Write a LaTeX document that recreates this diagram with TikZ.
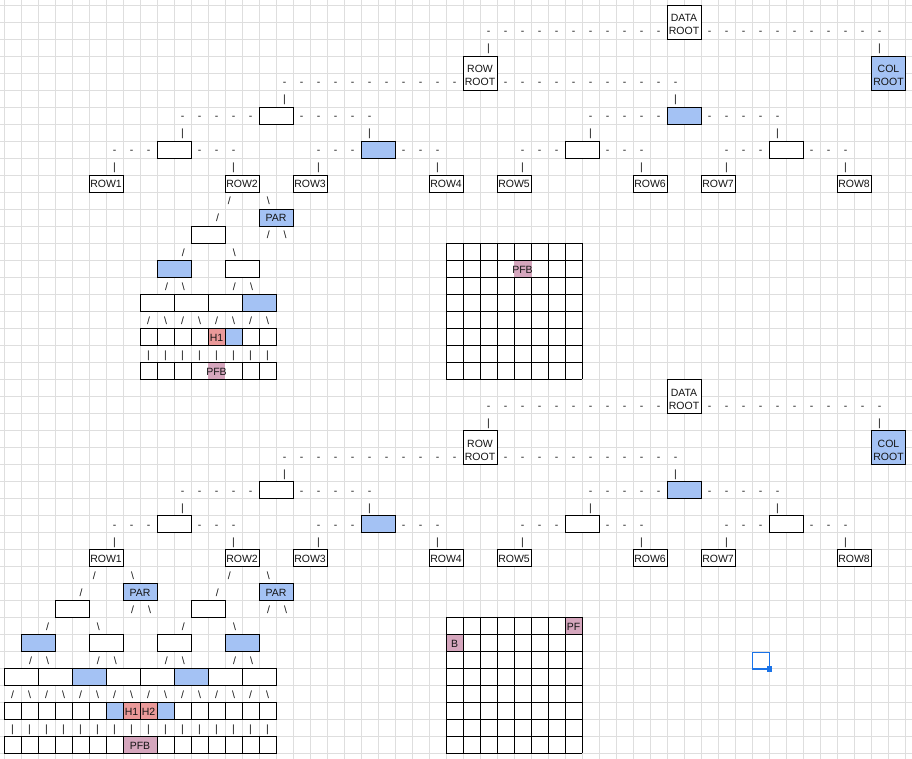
\documentclass[tikz,border=0pt]{standalone}
\usepackage{fontspec}
\setmainfont{Liberation Sans}
\definecolor{gridc}{RGB}{222,222,222}
\definecolor{bluef}{RGB}{164,194,244}
\definecolor{redf}{RGB}{234,153,153}
\definecolor{pinkf}{RGB}{213,166,189}
\definecolor{selc}{RGB}{26,115,232}
\definecolor{txt}{RGB}{20,20,20}
\newcounter{nc}
\tikzset{
 chr/.style={anchor=base, inner sep=0pt, outer sep=0pt, font=\fontsize{10.5}{13}\selectfont, text=txt},
 cellbox/.style={draw=black, line width=1pt, inner sep=0pt, outer sep=0pt},
 gridl/.style={draw=gridc, line width=1pt},
 gridb/.style={draw=black, line width=1pt},
}
\newcommand\bs{\textbackslash}
\newcommand\base{12.7}
% character at cell centre: col, row, char
\newcommand\chc[3]{\stepcounter{nc}\node[chr] (c\arabic{nc}) at ({12.5+17*(#1)},{5.3+17*(#2)+\base}) {#3};}
% character at x position: x, row, char
\newcommand\chx[3]{\stepcounter{nc}\node[chr] (c\arabic{nc}) at ({#1},{5.3+17*(#2)+\base}) {#3};}
% box: name, fill, col, row, wcols, hrows, text (bottom line)
\newcommand\bx[7]{\node[cellbox, fill=#2, minimum width={17*(#5)*1pt}, minimum height={17*(#6)*1pt}, anchor=north west] (#1) at ({4+17*(#3)},{5.3+17*(#4)}) {};
 \node[chr] (#1t) at ({4+17*(#3)+8.5*(#5)},{5.3+17*(#4+#6-1)+\base}) {#7};}
% two-line text in a box: name, x centre, row of second line, line1, line2
\newcommand\twol[5]{\node[chr] (#1ta) at ({#2},{5.3+17*(#3)+\base-13}) {#4};
 \node[chr] (#1tb) at ({#2},{5.3+17*(#3)+\base}) {#5};}
% upper tree: prefix, row offset
\newcommand\uptree[2]{%
 \bx{#1data}{white}{39}{#2+0}{2}{2}{}
 \twol{#1data}{684}{#2+1}{DATA}{ROOT}
 \bx{#1rowroot}{white}{27}{#2+3}{2}{2}{}
 \twol{#1rowroot}{480}{#2+4}{ROW}{ROOT}
 \bx{#1colroot}{bluef}{51}{#2+3}{2}{2}{}
 \twol{#1colroot}{888.5}{#2+4}{COL}{ROOT}
 \bx{#1a}{white}{15}{#2+6}{2}{1}{}
 \bx{#1b}{bluef}{39}{#2+6}{2}{1}{}
 \bx{#1aa}{white}{9}{#2+8}{2}{1}{}
 \bx{#1ab}{bluef}{21}{#2+8}{2}{1}{}
 \bx{#1ba}{white}{33}{#2+8}{2}{1}{}
 \bx{#1bb}{white}{45}{#2+8}{2}{1}{}
 \bx{#1r1}{white}{5}{#2+10}{2}{1}{ROW1}
 \bx{#1r2}{white}{13}{#2+10}{2}{1}{ROW2}
 \bx{#1r3}{white}{17}{#2+10}{2}{1}{ROW3}
 \bx{#1r4}{white}{25}{#2+10}{2}{1}{ROW4}
 \bx{#1r5}{white}{29}{#2+10}{2}{1}{ROW5}
 \bx{#1r6}{white}{37}{#2+10}{2}{1}{ROW6}
 \bx{#1r7}{white}{41}{#2+10}{2}{1}{ROW7}
 \bx{#1r8}{white}{49}{#2+10}{2}{1}{ROW8}
 \foreach \ci in {28,...,38,41,42,...,51} {\chc{\ci}{#2+1}{-}}
 \foreach \ci in {28,51} {\chc{\ci}{#2+2}{\textbar}}
 \foreach \ci in {16,...,26,29,30,...,39} {\chc{\ci}{#2+4}{-}}
 \foreach \ci in {16,39} {\chc{\ci}{#2+5}{\textbar}}
 \foreach \ci in {10,...,14,17,18,...,21,34,35,...,38,41,42,...,45} {\chc{\ci}{#2+6}{-}}
 \foreach \ci in {10,21,34,45} {\chc{\ci}{#2+7}{\textbar}}
 \foreach \ci in {6,7,8,11,12,13,18,19,20,23,24,25,30,31,32,35,36,37,42,43,44,47,48,49} {\chc{\ci}{#2+8}{-}}
 \foreach \ci in {6,13,18,25,30,37,42,49} {\chc{\ci}{#2+9}{\textbar}}
}
\begin{document}
\begin{tikzpicture}[x=1pt,y=-1pt]
\useasboundingbox (0,0) rectangle (912,759);
\fill[white] (0,0) rectangle (912,759);
% sheet grid
\foreach \k in {0,...,53} {\draw[gridl] ({4+17*\k},0) -- ({4+17*\k},759);}
\foreach \k in {0,...,44} {\draw[gridl] (0,{5.3+17*\k}) -- (912,{5.3+17*\k});}

% ================= upper diagram =================
\uptree{u}{0}
\chx{229.3}{11}{/} \chx{268.3}{11}{\bs}
\chx{217.7}{12}{/}
\bx{upar}{bluef}{15}{12}{2}{1}{PAR}
\bx{un1}{white}{11}{13}{2}{1}{}
\chx{268.3}{13}{/} \chx{285}{13}{\bs}
\chx{183.3}{14}{/} \chx{234.3}{14}{\bs}
\bx{un2}{bluef}{9}{15}{2}{1}{}
\bx{un3}{white}{13}{15}{2}{1}{}
\chx{166.7}{16}{/} \chx{183.3}{16}{\bs} \chx{234.3}{16}{/} \chx{251.7}{16}{\bs}
\bx{um1}{white}{8}{17}{2}{1}{}
\bx{um2}{white}{10}{17}{2}{1}{}
\bx{um3}{white}{12}{17}{2}{1}{}
\bx{um4}{bluef}{14}{17}{2}{1}{}
\foreach \ci in {8,10,12,14} {\chc{\ci}{18}{/}}
\foreach \ci in {9,11,13,15} {\chc{\ci}{18}{\bs}}
\foreach \ci in {8,9,10,11,14,15} {\bx{uh\ci}{white}{\ci}{19}{1}{1}{}}
\bx{uh12}{redf}{12}{19}{1}{1}{H1}
\bx{uh13}{bluef}{13}{19}{1}{1}{}
\foreach \ci in {8,...,15} {\chc{\ci}{20}{\textbar}}
\foreach \ci in {8,9,10,14,15} {\bx{ul\ci}{white}{\ci}{21}{1}{1}{}}
\bx{ulm}{white}{11}{21}{3}{1}{}
\fill[pinkf] ({4+17*12},{5.3+17*21+0.5}) rectangle ({4+17*13},{5.3+17*22-0.5});
\chc{12}{21}{PFB}
% upper 8x8 grid
\foreach \k in {0,...,8} {
 \draw[gridb] ({4+17*(26+\k)},{5.3+17*14}) -- ({4+17*(26+\k)},{5.3+17*22});
 \draw[gridb] ({4+17*26},{5.3+17*(14+\k)}) -- ({4+17*34},{5.3+17*(14+\k)});
}
\fill[pinkf] ({4+17*30-0.5},{5.3+17*15+0.5}) rectangle ({4+17*31+0.5},{5.3+17*16-0.5});
\chc{30}{15}{PFB}

% ================= lower diagram =================
\uptree{l}{22}
\chx{94.3}{33}{/} \chx{132.7}{33}{\bs} \chx{229.3}{33}{/} \chx{268.3}{33}{\bs}
\chx{81}{34}{/}
\bx{lpar1}{bluef}{7}{34}{2}{1}{PAR}
\chx{217.3}{34}{/}
\bx{lpar2}{bluef}{15}{34}{2}{1}{PAR}
\bx{ln1}{white}{3}{35}{2}{1}{}
\chx{132.7}{35}{/} \chx{149.7}{35}{\bs}
\bx{ln2}{white}{11}{35}{2}{1}{}
\chx{268.7}{35}{/} \chx{285.7}{35}{\bs}
\chx{47.7}{36}{/} \chx{98.3}{36}{\bs} \chx{183.3}{36}{/} \chx{234.7}{36}{\bs}
\bx{lk1}{bluef}{1}{37}{2}{1}{}
\bx{lk2}{white}{5}{37}{2}{1}{}
\bx{lk3}{white}{9}{37}{2}{1}{}
\bx{lk4}{bluef}{13}{37}{2}{1}{}
\chx{30.7}{38}{/} \chx{47.7}{38}{\bs} \chx{98.3}{38}{/} \chx{115.3}{38}{\bs}
\chx{166.3}{38}{/} \chx{183.3}{38}{\bs} \chx{234.7}{38}{/} \chx{251.7}{38}{\bs}
\foreach \ci in {0,2,6,8,12,14} {\bx{lm\ci}{white}{\ci}{39}{2}{1}{}}
\bx{lm4}{bluef}{4}{39}{2}{1}{}
\bx{lm10}{bluef}{10}{39}{2}{1}{}
\foreach \ci in {0,2,...,14} {\chc{\ci}{40}{/}}
\foreach \ci in {1,3,...,15} {\chc{\ci}{40}{\bs}}
\foreach \ci in {0,...,5,10,11,...,15} {\bx{lh\ci}{white}{\ci}{41}{1}{1}{}}
\bx{lh6}{bluef}{6}{41}{1}{1}{}
\bx{lh7}{redf}{7}{41}{1}{1}{H1}
\bx{lh8}{redf}{8}{41}{1}{1}{H2}
\bx{lh9}{bluef}{9}{41}{1}{1}{}
\foreach \ci in {0,...,15} {\chc{\ci}{42}{\textbar}}
\foreach \ci in {0,...,6,9,10,...,15} {\bx{ll\ci}{white}{\ci}{43}{1}{1}{}}
\bx{llpfb}{pinkf}{7}{43}{2}{1}{PFB}
% lower 8x8 grid
\fill[pinkf] ({4+17*33},{5.3+17*36}) rectangle ({4+17*34},{5.3+17*37});
\fill[pinkf] ({4+17*26},{5.3+17*37}) rectangle ({4+17*27},{5.3+17*38});
\foreach \k in {0,...,8} {
 \draw[gridb] ({4+17*(26+\k)},{5.3+17*36}) -- ({4+17*(26+\k)},{5.3+17*44});
 \draw[gridb] ({4+17*26},{5.3+17*(36+\k)}) -- ({4+17*34},{5.3+17*(36+\k)});
}
\chc{33}{36}{PF}
\chc{26}{37}{B}

% selection marker
\draw[selc, line width=1.5pt] (752.3,652.3) rectangle (769.3,669);
\fill[selc] (766.5,666.3) rectangle (772,671.5);
\end{tikzpicture}
\end{document}
